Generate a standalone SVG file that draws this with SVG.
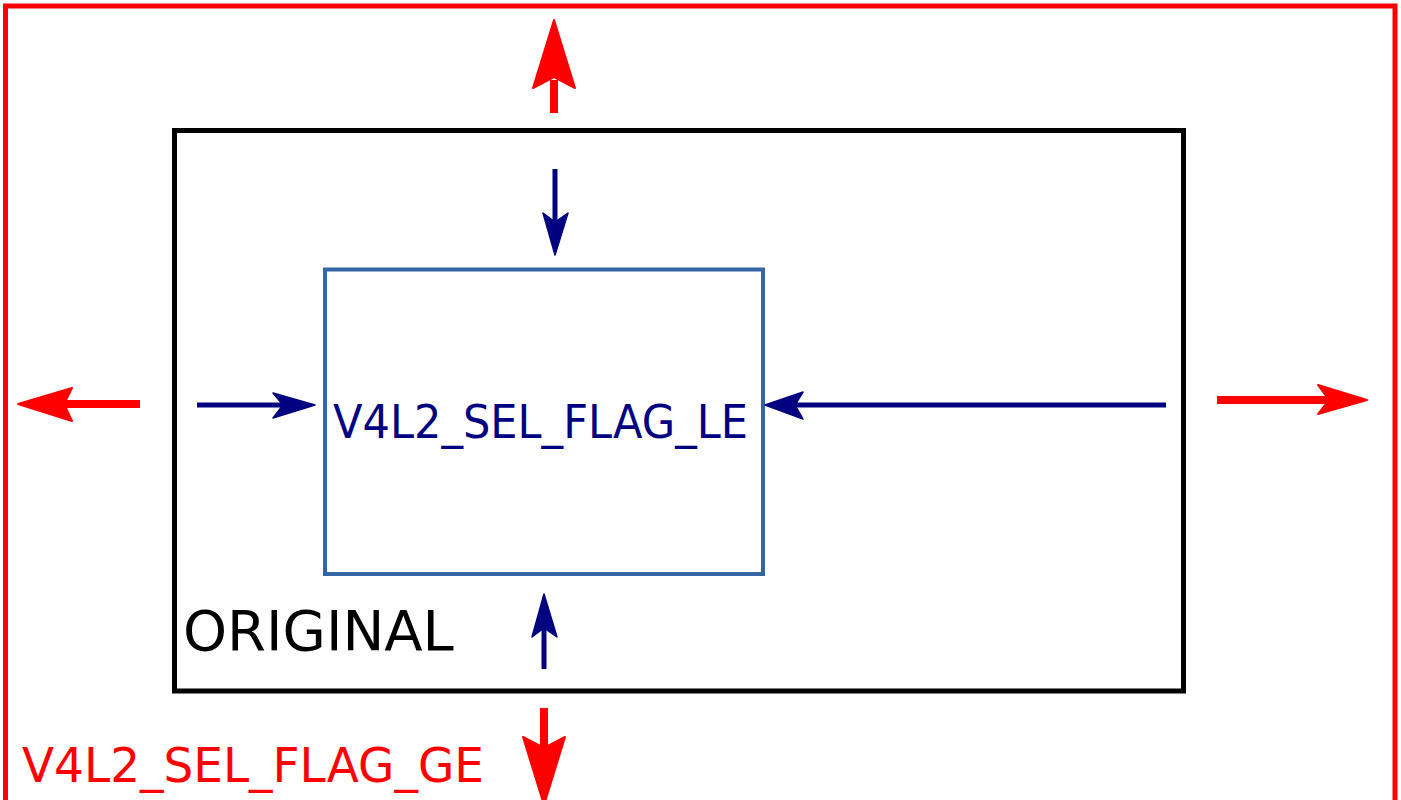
<svg xmlns="http://www.w3.org/2000/svg" width="1401" height="800" viewBox="0 0 1401 800">
<style>
.red{stroke:#ff0000;fill:none;stroke-width:8}
.redh{fill:#ff0000;stroke:#ff0000;stroke-width:2;stroke-linejoin:round}
.navy{stroke:#000080;fill:none;stroke-width:5}
.navyh{fill:#000080;stroke:#000080;stroke-width:1.5;stroke-linejoin:round}
.t{font-family:"DejaVu Sans",Verdana,sans-serif}
</style>
<rect width="1401" height="800" fill="#ffffff"/>
<g id="ge">
<rect x="5.5" y="6" width="1389.5" height="820" fill="none" stroke="#ff0000" stroke-width="5"/>
<text class="t" x="22" y="782" font-size="48" fill="#ff0000" textLength="462" lengthAdjust="spacingAndGlyphs">V4L2_SEL_FLAG_GE</text>
</g>
<g id="original">
<rect x="174.5" y="130.5" width="1009" height="560.5" fill="none" stroke="#000000" stroke-width="5"/>
<text class="t" x="183" y="650" font-size="56" fill="#000000">ORIGINAL</text>
</g>
<g id="le">
<rect x="325" y="269.5" width="438" height="304.5" fill="none" stroke="#3465a4" stroke-width="4"/>
<text class="t" x="333" y="438" font-size="47" fill="#000080" textLength="415" lengthAdjust="spacingAndGlyphs">V4L2_SEL_FLAG_LE</text>
</g>
<g id="connectors">
<!-- red top -->
<line class="red" x1="554" y1="113" x2="554" y2="80"/>
<path class="redh" d="M554,20 L575,88 L554,77 L533,88 Z"/>
<!-- red left -->
<line class="red" x1="140" y1="404" x2="62" y2="404"/>
<path class="redh" d="M18,404 L72,388 L64,404 L72,421 Z"/>
<!-- red right -->
<line class="red" x1="1217" y1="400" x2="1332" y2="400"/>
<path class="redh" d="M1367,400 L1318,385 L1329,400 L1318,414 Z"/>
<!-- red bottom -->
<line class="red" x1="544" y1="708" x2="544" y2="750"/>
<path class="redh" d="M544,805 L523,737 L544,748 L565,737 Z"/>
<!-- navy top -->
<line class="navy" x1="555" y1="169" x2="555" y2="225"/>
<path class="navyh" d="M555,255 L543,213 L555,222 L568,213 Z"/>
<!-- navy left -->
<line class="navy" x1="197" y1="405" x2="286" y2="405"/>
<path class="navyh" d="M315,405 L273,393 L283,405 L273,418 Z"/>
<!-- navy right -->
<line class="navy" x1="1166" y1="405" x2="795" y2="405"/>
<path class="navyh" d="M765,405 L803,392 L795,405 L803,419 Z"/>
<!-- navy bottom -->
<line class="navy" x1="544" y1="669" x2="544" y2="628"/>
<path class="navyh" d="M544,594 L557,637 L544,628 L532,637 Z"/>
</g>
</svg>
